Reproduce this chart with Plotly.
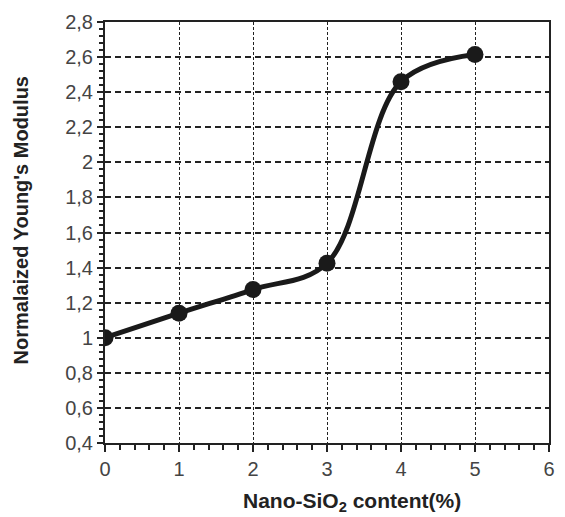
import plotly.graph_objects as go

sio2_content = [0, 1, 2, 3, 4, 5]
normalized_modulus = [1.00, 1.14, 1.275, 1.425, 2.46, 2.615]
x_title = "<b>Nano-SiO<sub>2</sub> content(%)</b>"
y_title = "<b>Normalaized Young's Modulus</b>"

fig = go.Figure()
fig.add_trace(go.Scatter(
    x=sio2_content, y=normalized_modulus, mode="lines+markers",
    line=dict(color="#1a1a1a", width=5, shape="spline", smoothing=1.0),
    marker=dict(color="#1a1a1a", size=17),
    showlegend=False,
))

font = "Liberation Sans, Arial, sans-serif"
fig.update_layout(
    width=565, height=517,
    margin=dict(l=105, r=10, t=22, b=74),
    paper_bgcolor="white", plot_bgcolor="white",
    font=dict(family=font, color="#333", size=20),
    separators=",.",
    xaxis=dict(
        range=[0, 6], tickmode="linear", tick0=0, dtick=1, ticks="outside", ticklen=7, tickwidth=2,
        tickcolor="#222", showline=True, linecolor="#222", linewidth=2, mirror=True,
        showgrid=True, gridcolor="#222", gridwidth=1, griddash="3px,2px",
        zeroline=False, tickfont=dict(size=20, color="#444"),
        minor=dict(dtick=0.2, ticks="outside", ticklen=5, tickwidth=2, tickcolor="#222", showgrid=False),
    ),
    yaxis=dict(
        range=[0.4, 2.8], tickmode="linear", tick0=0.4, dtick=0.2, ticks="outside", ticklen=6, tickwidth=2,
        tickcolor="#222", showline=True, linecolor="#222", linewidth=2, mirror=True,
        showgrid=True, gridcolor="#222", gridwidth=2, griddash="6px,4px",
        zeroline=False, tickfont=dict(size=20, color="#444"),
        minor=dict(dtick=0.04, ticks="outside", ticklen=4, tickwidth=1.5, tickcolor="#222", showgrid=False),
    ),
    annotations=[
        dict(text=x_title, xref="paper", yref="paper", x=0.556, y=-0.14,
             xanchor="center", yanchor="middle", showarrow=False,
             font=dict(size=21, color="#222")),
        dict(text=y_title, xref="paper", yref="paper", x=-0.19, y=0.53,
             xanchor="center", yanchor="middle", showarrow=False, textangle=-90,
             font=dict(size=20, color="#222")),
    ],
)

fig.write_html("out.html", config={"displayModeBar": False},
               post_script="document.body.style.margin='0';")
